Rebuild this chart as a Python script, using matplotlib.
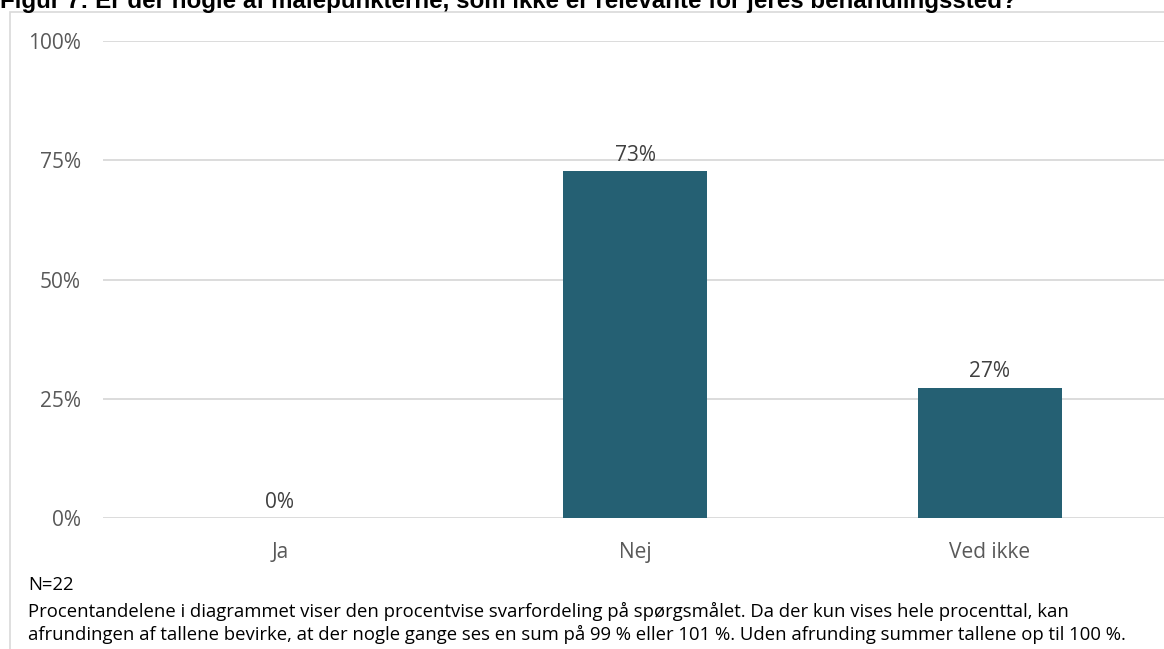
import matplotlib.pyplot as plt
from matplotlib.patches import Rectangle

categories = ["Ja", "Nej", "Ved ikke"]
shares = [0.0, 72.7, 27.3]
labels = ["0%", "73%", "27%"]
yticks = [0, 25, 50, 75, 100]

title = "Figur 7: Er der nogle af målepunkterne, som ikke er relevante for jeres behandlingssted?"
note_n = "N=22"
note_lines = [
    "Procentandelene i diagrammet viser den procentvise svarfordeling på spørgsmålet. "
    "Da der kun vises hele procenttal, kan",
    "afrundingen af tallene bevirke, at der nogle gange ses en sum på 99 % eller 101 %. "
    "Uden afrunding summer tallene op til 100 %.",
]

plt.rcParams['font.family'] = ['Open Sans', 'DejaVu Sans']
grey = "#595959"
bar_color = "#256073"

fig = plt.figure(figsize=(11.64, 6.49), dpi=100)
W, H = 1164, 649

# chart frame
fig.patches.append(Rectangle((10 / W, -0.1), 1.2, (H - 12) / H + 0.1,
                             transform=fig.transFigure, fill=False,
                             edgecolor="#D9D9D9", linewidth=1.2))

ax = fig.add_axes([102.5 / W, 131 / H, 1065 / W, 477 / H])
x = range(len(categories))
ax.bar(x, shares, width=0.403, color=bar_color, zorder=3)
for i, (v, lab) in enumerate(zip(shares, labels)):
    ax.annotate(lab, (i, v), xytext=(0, 7.5), textcoords="offset points",
                ha="center", va="baseline", fontsize=15, color="#404040")

ax.set_xlim(-0.5, len(categories) - 0.5)
ax.set_ylim(0, 100)
ax.set_yticks(yticks)
ax.set_yticklabels([f"{t}%" for t in yticks])
ax.set_xticks(list(x))
ax.set_xticklabels(categories)
ax.tick_params(axis="both", length=0, colors=grey, labelsize=15)
ax.tick_params(axis="y", pad=15.5)
ax.tick_params(axis="x", pad=17)
ax.grid(axis="y", color="#D9D9D9", linewidth=1.3, zorder=0)
for s in ax.spines.values():
    s.set_visible(False)

fig.text(0, 1 - 8 / H, title, fontsize=17.4, fontweight="bold", va="baseline",
         family=["Liberation Sans", "DejaVu Sans"], color="black")
fig.text(28 / W, 1 - 585 / H, note_n, fontsize=13.3, va="center", color="black")
for k, line in enumerate(note_lines):
    fig.text(28 / W, 1 - (611 + 23 * k) / H, line, fontsize=13.3, va="center",
             color="black")

fig.savefig("out.png", dpi=100)
